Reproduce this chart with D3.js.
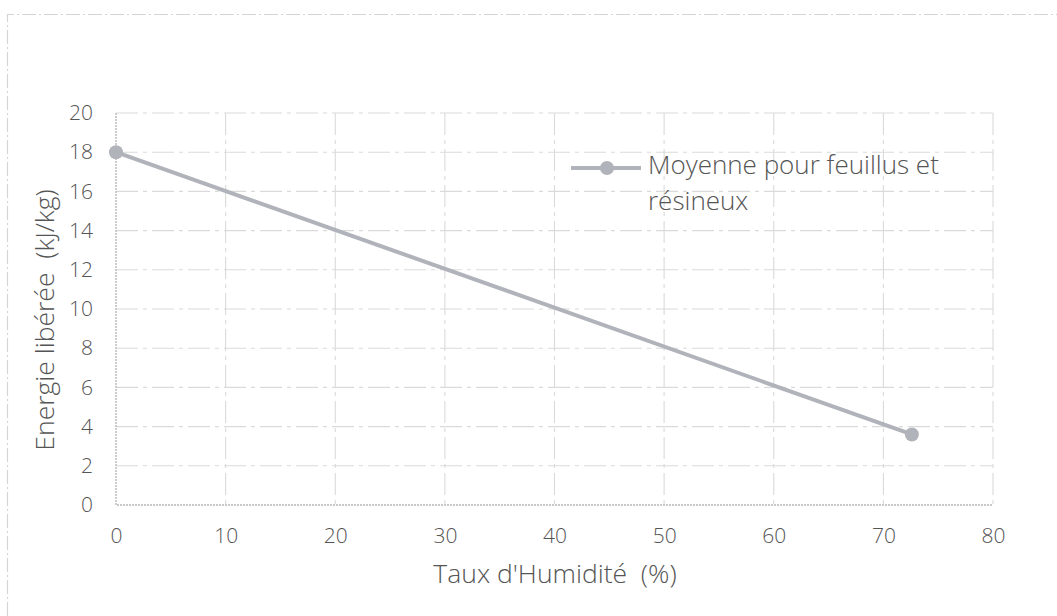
<!DOCTYPE html>
<html><head><meta charset="utf-8">
<script src="https://cdn.jsdelivr.net/npm/d3@7"></script>
<style>
body{margin:0;background:#fff;}
text{font-family:"Open Sans",sans-serif;font-weight:300;fill:#555;}
</style></head>
<body><svg id="c" width="1057" height="616"></svg>
<script>
const xValues = [0, 72.6];
const yValues = [18, 3.6];
const seriesName = ["Moyenne pour feuillus et", "résineux"];
const xTicks = [0,10,20,30,40,50,60,70,80];
const yTicks = [0,2,4,6,8,10,12,14,16,18,20];
const xTitle = "Taux d'Humidité  (%)";
const yTitle = "Energie libérée  (kJ/kg)";

const svg = d3.select("#c");
const L=116, R=993, T=113, B=505;
const x = d3.scaleLinear().domain([0,80]).range([L,R]);
const y = d3.scaleLinear().domain([0,20]).range([B,T]);
const FF = "'Open Sans',sans-serif";

// outer chart border
svg.append("path").attr("d",`M7.5,616 V14.5 H1057`).attr("fill","none")
  .attr("stroke","#d4d4d4").attr("stroke-width",1.2).attr("stroke-dasharray","14,3,2,3");

const grid = svg.append("g");
grid.selectAll("line.h").data(yTicks.slice(1)).join("line")
  .attr("x1",L).attr("x2",R).attr("y1",d=>y(d)).attr("y2",d=>y(d))
  .attr("stroke","#dadada").attr("stroke-width",1.1).attr("stroke-dasharray","22,5,4,5");
grid.selectAll("line.v").data(xTicks.slice(1)).join("line")
  .attr("y1",T).attr("y2",B).attr("x1",d=>x(d)).attr("x2",d=>x(d))
  .attr("stroke","#dadada").attr("stroke-width",1.1).attr("stroke-dasharray","22,5,4,5");
// plot border left & bottom
svg.append("path").attr("d",`M${L},${T} V${B} H${R}`).attr("fill","none")
  .attr("stroke","#b8b8b8").attr("stroke-width",1.4).attr("stroke-dasharray","2,1");

const xa = svg.append("g").attr("transform",`translate(0,${B})`)
  .call(d3.axisBottom(x).tickValues(xTicks).tickSize(0).tickPadding(23));
xa.select(".domain").remove();
xa.selectAll("text").attr("font-size",21).attr("font-family",FF).attr("font-weight",300).attr("fill","#555");
const ya = svg.append("g").attr("transform",`translate(${L},0)`)
  .call(d3.axisLeft(y).tickValues(yTicks).tickSize(0).tickPadding(23));
ya.select(".domain").remove();
ya.selectAll("text").attr("font-size",21).attr("font-family",FF).attr("font-weight",300).attr("fill","#555");

svg.append("text").attr("x",555).attr("y",583).attr("text-anchor","middle")
  .attr("font-size",26.5).attr("xml:space","preserve").text(xTitle);
svg.append("text").attr("transform",`translate(54,320) rotate(-90)`).attr("text-anchor","middle")
  .attr("font-size",26.5).attr("xml:space","preserve").text(yTitle);

// series
const pts = xValues.map((v,i)=>[v,yValues[i]]);
const col = "#b1b3ba";
svg.append("path").datum(pts).attr("d",d3.line().x(d=>x(d[0])).y(d=>y(d[1])))
  .attr("fill","none").attr("stroke",col).attr("stroke-width",4);
svg.selectAll("circle.p").data(pts).join("circle")
  .attr("cx",d=>x(d[0])).attr("cy",d=>y(d[1])).attr("r",7).attr("fill",col);

// legend
svg.append("line").attr("x1",571).attr("x2",641).attr("y1",168).attr("y2",168)
  .attr("stroke",col).attr("stroke-width",4);
svg.append("circle").attr("cx",607).attr("cy",168).attr("r",7).attr("fill",col);
svg.selectAll("text.leg").data(seriesName).join("text")
  .attr("x",648).attr("y",(d,i)=>174+i*36).attr("font-size",26).text(d=>d);
</script></body></html>
